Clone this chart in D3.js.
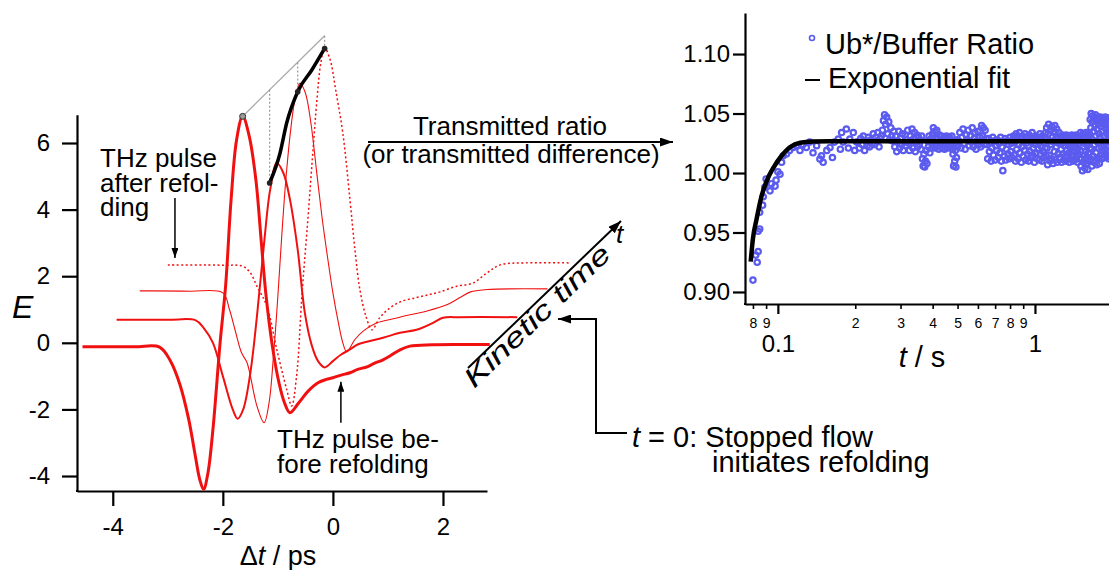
<!DOCTYPE html>
<html>
<head>
<meta charset="utf-8">
<script src="https://cdn.jsdelivr.net/npm/d3@7"></script>
<style>
  body { margin: 0; background: #fff; }
  svg { display: block; }
</style>
</head>
<body>
<script>
// --- THz pulses (delay in ps, field E), waterfall along kinetic time ---
const pulseBefore = [[-4.55,-0.12],[-3.6,-0.12],[-3.15,-0.13],[-2.95,-0.55],[-2.78,-1.25],[-2.62,-2.3],[-2.5,-3.4],[-2.42,-4.1],[-2.35,-4.4],[-2.27,-3.9],[-2.18,-2.6],[-2.05,0.0],[-1.95,1.7],[-1.85,4.3],[-1.75,6.1],[-1.64,6.8],[-1.52,6.2],[-1.4,4.9],[-1.3,3.0],[-1.22,1.5],[-1.1,-0.1],[-0.98,-1.2],[-0.88,-1.8],[-0.78,-2.1],[-0.62,-1.8],[-0.45,-1.45],[-0.27,-1.2],[-0.12,-1.1],[0.0,-1.05],[0.15,-0.97],[0.31,-0.9],[0.45,-0.8],[0.62,-0.72],[0.75,-0.62],[0.91,-0.51],[1.05,-0.38],[1.22,-0.21],[1.4,-0.1],[1.8,-0.06],[2.3,-0.05],[2.85,-0.05]];
const pulse2 = [[-3.93,0.69],[-3.0,0.69],[-2.5,0.68],[-2.35,0.45],[-2.18,0.0],[-2.0,-1.0],[-1.82,-2.0],[-1.73,-2.28],[-1.63,-2.0],[-1.5,-0.9],[-1.38,0.8],[-1.25,3.0],[-1.14,4.6],[-1.02,5.4],[-0.9,5.1],[-0.78,4.3],[-0.64,2.8],[-0.51,0.9],[-0.38,-0.1],[-0.27,-0.55],[-0.15,-0.74],[0.0,-0.55],[0.15,-0.35],[0.31,-0.2],[0.45,-0.05],[0.62,0.03],[0.91,0.15],[1.22,0.3],[1.52,0.39],[1.82,0.6],[2.0,0.75],[2.3,0.77],[3.35,0.77]];
const pulse3 = [[-3.51,1.56],[-2.6,1.55],[-2.0,1.5],[-1.88,1.0],[-1.78,0.4],[-1.66,-0.3],[-1.56,-0.6],[-1.38,-1.9],[-1.25,-2.4],[-1.16,-1.8],[-1.08,-0.4],[-1.0,1.4],[-0.93,3.2],[-0.85,5.0],[-0.76,6.5],[-0.68,7.4],[-0.6,7.8],[-0.5,7.5],[-0.4,6.6],[-0.3,5.2],[-0.2,3.8],[-0.1,2.6],[0.0,1.5],[0.1,0.6],[0.18,0.0],[0.25,-0.27],[0.4,0.1],[0.55,0.35],[0.8,0.6],[1.1,0.72],[1.4,0.84],[1.7,0.95],[2.07,1.14],[2.3,1.35],[2.5,1.53],[2.8,1.6],[3.9,1.62]];
const pulseAfter = [[-3.0,2.34],[-2.0,2.33],[-1.64,2.3],[-1.5,2.1],[-1.38,1.7],[-1.2,1.1],[-1.02,-0.2],[-0.84,-1.4],[-0.75,-1.9],[-0.66,-1.0],[-0.56,1.5],[-0.46,3.6],[-0.37,5.6],[-0.29,7.3],[-0.22,8.4],[-0.15,8.86],[-0.05,8.5],[0.05,7.6],[0.18,6.3],[0.31,4.3],[0.4,2.8],[0.49,1.6],[0.6,0.8],[0.71,0.39],[0.85,0.75],[1.0,1.0],[1.22,1.23],[1.5,1.35],[1.75,1.45],[1.95,1.53],[2.25,1.7],[2.55,1.8],[2.8,2.1],[3.04,2.34],[3.5,2.4],[4.3,2.4]];

// peak amplitude trend drawn across the waterfall
const peakTrend = [[-1.15,4.8],[-0.96,5.7],[-0.84,6.6],[-0.64,7.54],[-0.38,8.2],[-0.15,8.84]];
const peakMarks = [[-1.15,4.8],[-0.64,7.54],[-0.15,8.84]];
const peakRef = [[-1.64,6.8],[-0.15,9.22]];
const peakDrops = [[-1.15,7.6,4.8],[-0.64,8.42,7.54],[-0.15,9.22,8.84]];

const leftXTicks = [-4, -2, 0, 2];
const leftYTicks = [-4, -2, 0, 2, 4, 6];

// --- stopped-flow kinetics: Ub*/Buffer ratio vs t (s) ---
const earlyPoints = [[0.080,0.910],[0.082,0.931],[0.0831,0.925],[0.0838,0.934],[0.0838,0.951],[0.085,0.953],[0.085,0.967],[0.0872,0.973],[0.0877,0.980],[0.089,0.988],[0.090,0.995],[0.0932,0.985],[0.0944,0.991],[0.0975,0.989],[0.0984,0.994],[0.100,1.001],[0.1019,0.999],[0.1034,1.009],[0.105,1.0145],[0.108,1.016],[0.111,1.019],[0.1147,1.0215],[0.118,1.023],[0.1219,1.019],[0.1254,1.024],[0.129,1.0215],[0.133,1.026],[0.137,1.017],[0.1415,1.023],[0.1457,1.0117],[0.1478,1.0145],[0.150,1.009],[0.155,1.019],[0.1595,1.0215],[0.163,1.013],[0.166,1.026],[0.1718,1.0285],[0.175,1.020],[0.177,1.034],[0.1795,1.026],[0.1847,1.037],[0.188,1.021],[0.1905,1.0285],[0.1965,1.034],[0.199,1.019],[0.2025,1.026]];

// sampled every 2.5 ms from 0.205 s to 0.5 s
const bandStart1 = 0.205, bandStep1 = 0.0025;
const bandRatios1 = [
  1.026,1.021,1.029,1.024,1.031,1.019,1.027,1.023,1.030,1.022,1.028,1.025,
  1.033,1.024,1.030,1.027,1.034,1.022,1.029,1.031,
  1.036,1.044,1.049,1.041,1.047,1.033,1.043,1.028,1.038,1.031,1.027,1.035,
  1.022,1.031,1.018,1.027,1.035,1.021,1.029,1.024,1.033,1.019,1.026,1.032,1.023,1.028,
  1.036,1.025,1.019,1.031,1.027,1.037,1.021,1.029,1.034,1.018,1.026,1.032,1.022,1.030,1.024,
  1.028,1.020,1.031,1.012,1.006,1.016,1.005,1.010,1.019,1.008,1.027,1.022,1.031,1.017,1.026,1.029,1.021,
  1.033,1.038,1.026,1.035,1.021,1.030,1.036,1.024,1.029,1.020,1.032,1.027,
  1.024,1.031,1.021,1.028,1.026,1.030,1.020,1.027,1.023,1.031,1.025,1.021,1.029,1.024,1.030,1.022,1.027,1.025,1.031,1.020,
  1.016,1.006,1.024,1.010,1.019,1.005,1.013,1.028,1.022];

// sampled every 5 ms from 0.505 s to 2.0 s
const bandStart2 = 0.505, bandStep2 = 0.005;
const bandRatios2 = [
  1.027,1.034,1.021,1.030,1.037,1.025,1.020,1.032,1.028,1.036,1.023,1.031,1.026,1.038,1.022,1.029,1.034,1.020,1.027,1.035,1.024,1.030,1.022,
  1.040,1.031,1.038,1.024,1.036,1.029,
  1.024,1.012,1.029,1.018,1.026,1.010,1.021,1.030,1.015,1.027,1.011,1.023,1.019,1.028,1.013,1.025,1.017,1.030,1.010,1.022,
  1.002,1.026,1.014,1.029,1.011,1.020,1.027,1.016,1.024,1.012,1.030,1.018,1.025,1.013,1.028,
  1.031,1.015,1.026,1.010,1.033,1.020,1.028,1.012,1.024,1.034,
  1.017,1.029,1.009,1.022,1.031,1.014,1.027,1.019,1.033,1.011,
  1.025,1.030,1.016,1.023,1.010,1.032,1.018,1.028,1.013,1.026,
  1.034,1.015,1.021,1.029,1.009,1.024,1.031,1.017,1.027,1.012,
  1.030,1.020,1.025,1.011,1.033,1.016,1.028,1.022,1.010,1.031,
  1.018,1.026,1.013,1.029,1.021,1.034,1.015,
  1.038,1.021,1.007,1.033,1.041,1.015,1.027,1.010,1.036,1.024,
  1.012,1.039,1.030,1.008,1.026,1.035,1.018,1.040,1.011,1.029,
  1.022,1.037,1.009,1.031,1.016,1.025,1.034,1.013,
  1.027,1.012,1.031,1.020,1.009,1.025,1.032,1.016,1.029,1.011,
  1.023,1.030,1.014,1.026,1.010,1.032,1.019,1.028,1.013,1.024,
  1.031,1.017,1.009,1.027,1.022,1.030,1.012,1.025,1.032,1.015,
  1.028,1.010,1.021,1.031,1.018,1.026,1.011,1.029,1.023,1.032,
  1.014,1.027,1.020,1.009,1.030,1.016,1.025,1.031,1.012,1.028,
  1.019,1.034,1.006,1.027,1.012,1.031,1.002,1.022,1.033,1.009,
  1.025,1.015,1.030,1.004,1.028,1.018,1.034,1.008,1.024,1.013,
  1.032,1.003,1.026,1.017,1.029,1.010,1.033,1.021,
  1.045,1.012,1.038,1.050,1.020,1.006,1.043,1.028,1.048,1.014,
  1.035,1.009,1.046,1.024,1.040,1.011,1.049,1.031,1.017,1.044,
  1.007,1.037,1.026,1.047,1.013,1.041,1.021,1.033,1.008,1.045,
  1.030,1.047,1.015,1.039,1.022,1.044,1.012,1.035,1.027,1.046,
  1.018,1.041,1.024,1.013,1.043,1.031,1.020,1.047,1.016,1.037,
  1.026,1.045,1.014,1.033,1.040,1.019,1.028,1.046,1.012,1.036,
  1.023,1.042,1.017,1.031,1.044,1.015,1.038,1.025,1.047,1.013,
  1.034,1.021,1.040];

const fitTimes = [0.0784,0.080,0.0826,0.0865,0.0906,0.0963,0.1034,0.111,0.122,0.137,0.16,2.3];
const fitRatios = [0.9255,0.945,0.961,0.981,0.9936,1.0048,1.0145,1.0215,1.0255,1.0265,1.0267,1.0267];

const rightYTicks = [0.90, 0.95, 1.00, 1.05, 1.10];
const majorTimes = [0.1, 1];
const minorTimes = [0.08, 0.09, 0.2, 0.3, 0.4, 0.5, 0.6, 0.7, 0.8, 0.9, 2];
const minorLabels = ['8', '9', '2', '3', '4', '5', '6', '7', '8', '9', '2'];

const FONT = "'Liberation Sans', Arial, Helvetica, sans-serif";
const RED = '#f01010';
const BLUE = '#5b5bef';

const svg = d3.select('body').append('svg')
    .attr('width', 1109)
    .attr('height', 570)
    .attr('font-family', FONT);

const defs = svg.append('defs');
function marker(id, len, half) {
    defs.append('marker')
        .attr('id', id)
        .attr('viewBox', `0 ${-half} ${len} ${half * 2}`)
        .attr('refX', len)
        .attr('refY', 0)
        .attr('markerWidth', len)
        .attr('markerHeight', half * 2)
        .attr('markerUnits', 'userSpaceOnUse')
        .attr('orient', 'auto')
        .append('path')
        .attr('d', `M0,${-half}L${len},0L0,${half}Z`)
        .attr('fill', '#000');
}
marker('arrow', 13, 4.5);
marker('arrowSmall', 10, 3.5);

// ================= left: THz waveforms =================
const xL = d3.scaleLinear().domain([-4.65, 2.8]).range([77, 487]);
const yL = d3.scaleLinear().domain([-4.45, 6.85]).range([491, 114.7]);

const left = svg.append('g');

const yAxisL = left.append('g')
    .attr('transform', 'translate(77,0)')
    .call(d3.axisLeft(yL).tickValues(leftYTicks).tickFormat(d => String(d))
        .tickSize(15).tickSizeOuter(0).tickPadding(12));
const xAxisL = left.append('g')
    .attr('transform', 'translate(0,491)')
    .call(d3.axisBottom(xL).tickValues(leftXTicks).tickFormat(d => String(d))
        .tickSize(15).tickSizeOuter(0).tickPadding(12));

[yAxisL, xAxisL].forEach(g => {
    g.attr('font-size', 24).attr('font-family', FONT);
    g.select('.domain').attr('stroke-width', 2.2);
    g.selectAll('.tick line').attr('stroke-width', 2.2);
    g.selectAll('.tick text').attr('fill', '#000');
});
// close the corner where the two axes meet
left.append('line')
    .attr('x1', 76).attr('x2', 78)
    .attr('y1', 491).attr('y2', 491)
    .attr('stroke', '#000').attr('stroke-width', 2.2);

const lineL = d3.line()
    .x(d => xL(d[0]))
    .y(d => yL(d[1]))
    .curve(d3.curveCatmullRom.alpha(0.5));

const traces = [
    { data: pulseAfter, width: 1.5, dash: '2,2.5' },
    { data: pulse3, width: 1.1, dash: null },
    { data: pulse2, width: 2, dash: null },
    { data: pulseBefore, width: 3, dash: null }
];

left.selectAll('path.trace')
    .data(traces)
    .join('path')
    .attr('class', 'trace')
    .attr('d', d => lineL(d.data))
    .attr('fill', 'none')
    .attr('stroke', RED)
    .attr('stroke-width', d => d.width)
    .attr('stroke-dasharray', d => d.dash)
    .attr('stroke-linejoin', 'round');

// reference line through the first peak, and drops to the trend
left.append('path')
    .attr('d', d3.line().x(d => xL(d[0])).y(d => yL(d[1]))(peakRef))
    .attr('stroke', '#aaa')
    .attr('stroke-width', 1.3)
    .attr('fill', 'none');

left.selectAll('line.drop')
    .data(peakDrops)
    .join('line')
    .attr('class', 'drop')
    .attr('x1', d => xL(d[0])).attr('x2', d => xL(d[0]))
    .attr('y1', d => yL(d[1])).attr('y2', d => yL(d[2]))
    .attr('stroke', '#999')
    .attr('stroke-width', 1.2)
    .attr('stroke-dasharray', '2,2');

left.append('path')
    .attr('d', d3.line().x(d => xL(d[0])).y(d => yL(d[1])).curve(d3.curveMonotoneX)(peakTrend))
    .attr('fill', 'none')
    .attr('stroke', '#000')
    .attr('stroke-width', 3.5)
    .attr('stroke-linecap', 'round');

left.selectAll('circle.mark')
    .data(peakMarks)
    .join('circle')
    .attr('class', 'mark')
    .attr('cx', d => xL(d[0]))
    .attr('cy', d => yL(d[1]))
    .attr('r', 2.8)
    .attr('fill', '#222');

left.append('circle')
    .attr('cx', xL(peakRef[0][0]))
    .attr('cy', yL(peakRef[0][1]))
    .attr('r', 3)
    .attr('fill', '#9a9a9a')
    .attr('stroke', '#333')
    .attr('stroke-width', 1);

// axis titles
left.append('text')
    .attr('x', 12).attr('y', 318)
    .attr('font-size', 32)
    .attr('font-style', 'italic')
    .text('E');

const dtLabel = left.append('text')
    .attr('x', 278).attr('y', 565)
    .attr('text-anchor', 'middle')
    .attr('font-size', 27);
dtLabel.append('tspan').text('Δ');
dtLabel.append('tspan').attr('font-style', 'italic').text('t');
dtLabel.append('tspan').text(' / ps');

// annotations in the waveform panel
const afterLines = ['THz pulse', 'after refol-', 'ding'];
left.selectAll('text.after')
    .data(afterLines)
    .join('text')
    .attr('class', 'after')
    .attr('x', 100)
    .attr('y', (d, i) => 167 + i * 24.5)
    .attr('font-size', 26)
    .text(d => d);

left.append('line')
    .attr('x1', xL(-2.87)).attr('x2', xL(-2.87))
    .attr('y1', yL(4.35)).attr('y2', yL(2.55))
    .attr('stroke', '#000').attr('stroke-width', 1.5)
    .attr('marker-end', 'url(#arrowSmall)');

const beforeLines = ['THz pulse be-', 'fore refolding'];
left.selectAll('text.before')
    .data(beforeLines)
    .join('text')
    .attr('class', 'before')
    .attr('x', 277)
    .attr('y', (d, i) => 448 + i * 25)
    .attr('font-size', 26)
    .text(d => d);

left.append('line')
    .attr('x1', xL(0.145)).attr('x2', xL(0.145))
    .attr('y1', yL(-2.4)).attr('y2', yL(-1.17))
    .attr('stroke', '#000').attr('stroke-width', 1.5)
    .attr('marker-end', 'url(#arrowSmall)');

// ================= middle annotations =================
const mid = svg.append('g');

mid.append('text')
    .attr('x', 510).attr('y', 135)
    .attr('text-anchor', 'middle')
    .attr('font-size', 26)
    .text('Transmitted ratio');
mid.append('line')
    .attr('x1', 368).attr('x2', 673)
    .attr('y1', 142).attr('y2', 142)
    .attr('stroke', '#000').attr('stroke-width', 2)
    .attr('marker-end', 'url(#arrow)');
mid.append('text')
    .attr('x', 511).attr('y', 163)
    .attr('text-anchor', 'middle')
    .attr('font-size', 26)
    .text('(or transmitted difference)');

const k0 = [468, 368], k1 = [621, 221];
const kAngle = Math.atan2(k1[1] - k0[1], k1[0] - k0[0]) * 180 / Math.PI;
mid.append('line')
    .attr('x1', k0[0]).attr('y1', k0[1])
    .attr('x2', k1[0]).attr('y2', k1[1])
    .attr('stroke', '#000').attr('stroke-width', 2)
    .attr('marker-end', 'url(#arrow)');
mid.append('text')
    .attr('transform', `translate(${k0[0]},${k0[1]}) rotate(${kAngle})`)
    .attr('x', -10).attr('y', 19.5)
    .attr('font-size', 27)
    .attr('font-style', 'italic')
    .attr('textLength', 192)
    .attr('lengthAdjust', 'spacingAndGlyphs')
    .text('Kinetic time');
mid.append('text')
    .attr('x', 616).attr('y', 243)
    .attr('font-size', 26)
    .attr('font-style', 'italic')
    .text('t');

mid.append('path')
    .attr('d', 'M627,433H596V319H558')
    .attr('fill', 'none')
    .attr('stroke', '#000').attr('stroke-width', 2)
    .attr('marker-end', 'url(#arrow)');

const t0 = mid.append('text')
    .attr('x', 632).attr('y', 447)
    .attr('font-size', 29);
t0.append('tspan').attr('font-style', 'italic').text('t');
t0.append('tspan').text(' = 0: Stopped flow');
mid.append('text')
    .attr('x', 712).attr('y', 472)
    .attr('font-size', 29)
    .text('initiates refolding');

// ================= right: kinetics =================
const xR = d3.scaleLog().domain([0.0745, 2.2]).range([745, 1123]);
const yR = d3.scaleLinear().domain([0.8899, 1.1345]).range([304, 13]);

const right = svg.append('g');

const ratioPoints = earlyPoints.map(([t, r]) => ({ t, r }))
    .concat(bandRatios1.map((r, i) => ({ t: bandStart1 + i * bandStep1, r })))
    .concat(bandRatios2.map((r, i) => ({ t: bandStart2 + i * bandStep2, r })));

right.selectAll('circle.pt')
    .data(ratioPoints)
    .join('circle')
    .attr('class', 'pt')
    .attr('cx', d => xR(d.t))
    .attr('cy', d => yR(d.r))
    .attr('r', 2.7)
    .attr('fill', 'none')
    .attr('stroke', BLUE)
    .attr('stroke-width', 2.2);

right.append('path')
    .attr('d', d3.line()
        .x((d, i) => xR(fitTimes[i]))
        .y(d => yR(d))
        .curve(d3.curveMonotoneX)(fitRatios))
    .attr('fill', 'none')
    .attr('stroke', '#000')
    .attr('stroke-width', 4.5);

const yAxisR = right.append('g')
    .attr('transform', 'translate(745,0)')
    .call(d3.axisLeft(yR).tickValues(rightYTicks).tickFormat(d3.format('.2f'))
        .tickSize(12).tickSizeOuter(0).tickPadding(3));
const xAxisR = right.append('g')
    .attr('transform', 'translate(0,304)')
    .call(d3.axisBottom(xR).tickValues(majorTimes).tickFormat(d => String(d))
        .tickSize(10).tickSizeOuter(0).tickPadding(21));
const xMinorR = right.append('g')
    .attr('transform', 'translate(0,304)')
    .call(d3.axisBottom(xR).tickValues(minorTimes).tickFormat((d, i) => minorLabels[i])
        .tickSize(5).tickSizeOuter(0).tickPadding(9));
xMinorR.select('.domain').remove();

[yAxisR, xAxisR, xMinorR].forEach(g => {
    g.attr('font-size', 24).attr('font-family', FONT);
    g.select('.domain').attr('stroke-width', 2.2);
    g.selectAll('.tick line').attr('stroke-width', 2.2);
    g.selectAll('.tick text').attr('fill', '#000');
});
xMinorR.attr('font-size', 14);
xMinorR.selectAll('.tick line').attr('stroke-width', 1.6);
right.append('line')
    .attr('x1', 744).attr('x2', 746)
    .attr('y1', 304).attr('y2', 304)
    .attr('stroke', '#000').attr('stroke-width', 2.2);

const tsLabel = right.append('text')
    .attr('x', 922).attr('y', 367)
    .attr('text-anchor', 'middle')
    .attr('font-size', 29);
tsLabel.append('tspan').attr('font-style', 'italic').text('t');
tsLabel.append('tspan').text(' / s');

// legend
right.append('circle')
    .attr('cx', 812).attr('cy', 38)
    .attr('r', 2.5)
    .attr('fill', 'none')
    .attr('stroke', BLUE)
    .attr('stroke-width', 1.6);
right.append('text')
    .attr('x', 825).attr('y', 54)
    .attr('font-size', 29)
    .text('Ub*/Buffer Ratio');
right.append('line')
    .attr('x1', 805).attr('x2', 820)
    .attr('y1', 80).attr('y2', 80)
    .attr('stroke', '#000').attr('stroke-width', 2);
right.append('text')
    .attr('x', 828).attr('y', 88)
    .attr('font-size', 29)
    .text('Exponential fit');
</script>
</body>
</html>
